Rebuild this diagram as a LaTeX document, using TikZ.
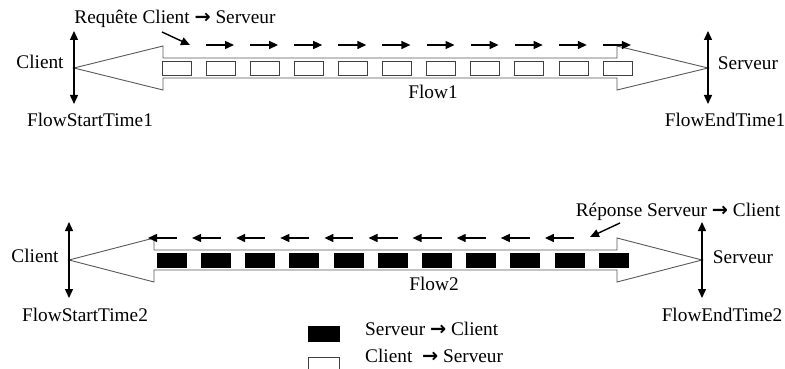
\documentclass[tikz,border=0pt]{standalone}
\usepackage{fontspec}
\setmainfont{Liberation Serif}
\newfontfamily\symfont{DejaVu Sans}
\usetikzlibrary{arrows.meta}
\tikzset{
  lbl/.style={inner sep=0pt, font=\fontsize{19.3}{21}\selectfont},
  flowshape/.style={draw=black!65, fill=white, line width=0.9pt},
  pkt/.style={draw=black!75, line width=0.8pt, fill=white},
  pktb/.style={draw=black, fill=black},
  dir/.style={line width=1.4pt, -{Triangle[length=9pt,width=8pt]}},
  vdir/.style={line width=1.4pt, {Triangle[length=9pt,width=8pt]}-{Triangle[length=9pt,width=8pt]}},
}
\newcommand{\rarr}{{\symfont\bfseries →}}
\begin{document}
\begin{tikzpicture}[x=1pt,y=-1pt]
\useasboundingbox (0,0) rectangle (785,369);
% ---------- Flow 1 ----------
\draw[flowshape] (74,68) -- (163,46) -- (163,58) -- (617,58) -- (617,46) -- (708,68) -- (617,90) -- (617,78) -- (163,78) -- (163,90) -- cycle;
\foreach \i in {0,...,10} {
  \draw[pkt] ({162+44.1*\i},61) rectangle ++(29,14);
}
\foreach \i in {0,...,9} {
  \coordinate (a1s\i) at ({206+44.1*\i},45);
  \coordinate (a1e\i) at ({234+44.1*\i},45);
  \draw[dir] (a1s\i) -- (a1e\i);
}
\node[lbl] (req) at (175,19) {Requête Client \rarr\ Serveur};
\coordinate (req1) at (162,32);
\coordinate (req2) at (190,45);
\draw[dir] (req1) -- (req2);
\coordinate (c1t) at (74,31);
\coordinate (c1b) at (74,104);
\draw[vdir] (c1t) -- (c1b);
\coordinate (s1t) at (708,31);
\coordinate (s1b) at (708,104);
\draw[vdir] (s1t) -- (s1b);
\node[lbl] (cl1) at (40,62) {Client};
\node[lbl] (fst1) at (90,120) {FlowStartTime1};
\node[lbl] (sv1) at (748,63) {Serveur};
\node[lbl] (fet1) at (725,120) {FlowEndTime1};
\node[lbl] (f1) at (433,92) {Flow1};
% ---------- Flow 2 ----------
\draw[flowshape] (69,260) -- (154,238) -- (154,250) -- (617,250) -- (617,238) -- (702,260) -- (617,282) -- (617,270) -- (154,270) -- (154,282) -- cycle;
\foreach \i in {0,...,10} {
  \fill[pktb] ({157+44.2*\i},253) rectangle ++(29,14);
}
\foreach \i in {0,...,9} {
  \coordinate (a2s\i) at ({177+44.1*\i},238);
  \coordinate (a2e\i) at ({148+44.1*\i},238);
  \draw[dir] (a2s\i) -- (a2e\i);
}
\node[lbl] (rep) at (678,212) {Réponse Serveur \rarr\ Client};
\coordinate (rep1) at (620,223);
\coordinate (rep2) at (590,237);
\draw[dir] (rep1) -- (rep2);
\coordinate (c2t) at (69,222);
\coordinate (c2b) at (69,298);
\draw[vdir] (c2t) -- (c2b);
\coordinate (s2t) at (702,222);
\coordinate (s2b) at (702,298);
\draw[vdir] (s2t) -- (s2b);
\node[lbl] (cl2) at (35,256) {Client};
\node[lbl] (fst2) at (85,315) {FlowStartTime2};
\node[lbl] (sv2) at (743,257) {Serveur};
\node[lbl] (fet2) at (722,315) {FlowEndTime2};
\node[lbl] (f2) at (434,284) {Flow2};
% ---------- Legend ----------
\fill[pktb] (308,326) rectangle (339,341);
\draw[black!75, line width=0.8pt] (308,372) -- (308,357) -- (339,357) -- (339,372);
\node[lbl, anchor=west] (lg1) at (365,329) {Serveur \rarr\ Client};
\node[lbl, anchor=west] (lg2) at (365,356) {Client\ \ \rarr\ Serveur};
\end{tikzpicture}
\end{document}
